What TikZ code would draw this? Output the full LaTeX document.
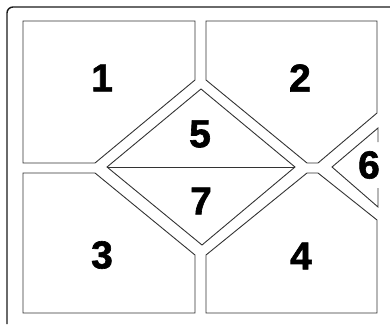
\documentclass[tikz,border=0pt]{standalone}
\usepackage{fontspec}
\setmainfont{Liberation Sans}
\newfontfamily\numfont[FakeBold=1.6]{Liberation Sans Bold}
\usepackage{tikz}
\definecolor{EdgeGrey}{HTML}{333333}
\definecolor{FrameBlack}{HTML}{1A1A1A}

\begin{document}
\begin{tikzpicture}[
        x=1pt,y=-1pt,
        every node/.style={font=\numfont\fontsize{39}{39}\selectfont},
        piece/.style={draw=EdgeGrey,line width=0.9pt,line join=miter},
        frame/.style={draw=FrameBlack,line width=1.4pt,rounded corners=6pt}
      ]
        \useasboundingbox (0,0) rectangle (390,324);
        % outer frame
        \draw[frame] (390,7) -- (7,7) -- (7,324);
        % the pieces
        \draw[piece] (23,21) -- (195,21) -- (195,80) -- (95,163) -- (23,163) -- cycle;
        \draw[piece] (206,21) -- (377,21) -- (377,113) -- (318,163) -- (307,163) -- (206,80) -- cycle;
        \draw[piece] (23,173) -- (95,173) -- (195,255) -- (195,313) -- (23,313) -- cycle;
        \draw[piece] (307,173) -- (318,173) -- (377,220) -- (377,313) -- (206,313) -- (206,255) -- cycle;
        \draw[piece] (107,167) -- (201,89) -- (295,167) -- (202,245) -- cycle;
        \draw[piece] (107,167) -- (295,167);
        \draw[piece] (378,142) -- (378,128) -- (332,167) -- (378,207) -- (378,188);
        % numbers
        \node (one)   at (102,78)  {1};
        \node (two)   at (300,78)  {2};
        \node (five)  at (200,134) {5};
        \node (six)   at (369,165) {6};
        \node (seven) at (201,201) {7};
        \node (three) at (102,255) {3};
        \node (four)  at (301,256) {4};
      \end{tikzpicture}
\end{document}
